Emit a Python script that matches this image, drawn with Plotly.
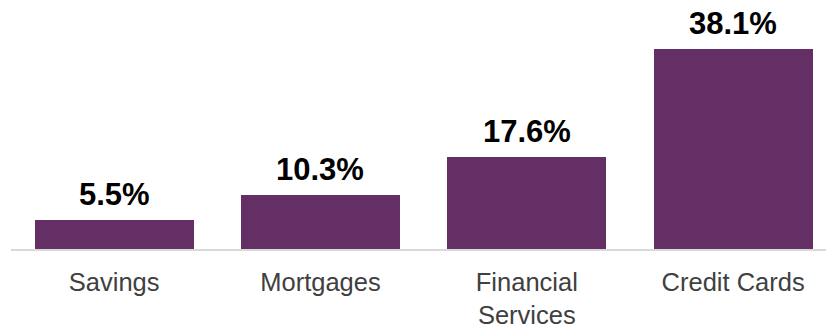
import plotly.graph_objects as go

categories = ["Savings", "Mortgages", "Financial<br>Services", "Credit Cards"]
values = [5.5, 10.3, 17.6, 38.1]
labels = ["5.5%", "10.3%", "17.6%", "38.1%"]

bar_color = "#632F65"

fig = go.Figure(
    go.Bar(
        x=list(range(len(categories))),
        y=values,
        marker=dict(color=bar_color, line=dict(width=0)),
        width=0.77,
        hoverinfo="skip",
    )
)

for i, (v, t) in enumerate(zip(values, labels)):
    fig.add_annotation(
        x=i, y=v, text=f"<b>{t}</b>", showarrow=False,
        yanchor="bottom", yshift=6,
        font=dict(family="Liberation Sans, Arial", size=31, color="#000000"),
    )

fig.update_layout(
    width=826, height=328,
    margin=dict(l=11, r=0, t=0, b=79),
    paper_bgcolor="white", plot_bgcolor="white",
    showlegend=False,
    bargap=0,
)
fig.update_xaxes(
    range=[-0.5, 3.45],
    tickmode="array",
    tickvals=list(range(len(categories))),
    ticktext=categories,
    showgrid=False, zeroline=False,
    showline=True, linecolor="#D9D9D9", linewidth=2,
    ticks="", ticklabelstandoff=9, automargin=False,
    tickfont=dict(family="Liberation Sans, Arial", size=25.5, color="#404040"),
)
fig.update_yaxes(
    range=[0, 47.4], visible=False, showgrid=False, zeroline=False,
    automargin=False,
)

fig.write_html("out.html")
